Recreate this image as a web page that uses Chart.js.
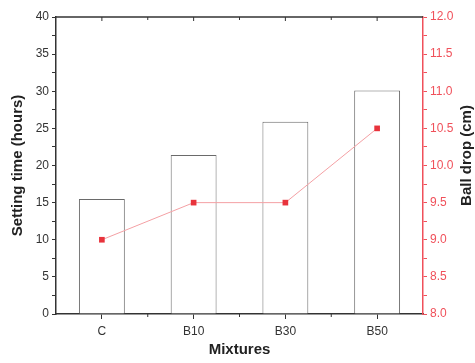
<!DOCTYPE html>
<html>
<head>
<meta charset="utf-8">
<script src="https://cdn.jsdelivr.net/npm/chart.js@4"></script>
<style>
  html, body { margin: 0; padding: 0; background: #fff; }
  #wrap { width: 475px; height: 363px; }
</style>
</head>
<body>
<div id="wrap"><canvas id="myChart" width="475" height="363"></canvas></div>
<script>
var mixtures = ['C', 'B10', 'B30', 'B50'];
var settingTime = [15.5, 21.4, 25.9, 30.1];
var ballDrop = [9.0, 9.5, 9.5, 10.5];

var font = 'Liberation Sans, Arial, sans-serif';
var red = '#f0505a';

// top frame line, small ticks between categories, right title reading upward
var framePlugin = {
  id: 'frame',
  afterDraw: function (chart) {
    var c = chart.ctx, a = chart.chartArea, x = chart.scales.x;
    c.save();
    c.strokeStyle = '#333';
    c.lineWidth = 1.5;
    c.beginPath();
    c.moveTo(a.left, a.top);
    c.lineTo(a.right, a.top);
    c.stroke();
    c.lineWidth = 1;
    for (var i = 0; i < mixtures.length; i++) {
      var px = x.getPixelForValue(i);
      c.beginPath();
      c.moveTo(px, a.top);
      c.lineTo(px, a.top + 4);
      c.stroke();
      if (i > 0) {
        var mx = (px + x.getPixelForValue(i - 1)) / 2;
        c.beginPath();
        c.moveTo(mx, a.bottom);
        c.lineTo(mx, a.bottom + 3);
        c.moveTo(mx, a.top);
        c.lineTo(mx, a.top + 3);
        c.stroke();
      }
    }
    c.translate(chart.width - 8, (a.top + a.bottom) / 2 - 10);
    c.rotate(-Math.PI / 2);
    c.fillStyle = '#222';
    c.font = 'bold 15px ' + font;
    c.textAlign = 'center';
    c.textBaseline = 'middle';
    c.fillText('Ball drop (cm)', 0, 0);
    c.restore();
  }
};

var ctx = document.getElementById('myChart').getContext('2d');

var myChart = new Chart(ctx, {
  data: {
    labels: mixtures,
    datasets: [
      {
        type: 'line',
        label: 'Ball drop',
        data: ballDrop,
        yAxisID: 'y2',
        borderColor: '#f4a0a4',
        borderWidth: 1,
        backgroundColor: '#e8333c',
        pointStyle: 'rect',
        pointRadius: 4,
        pointBorderWidth: 0,
        tension: 0,
      },
      {
        type: 'bar',
        label: 'Setting time',
        data: settingTime,
        yAxisID: 'y',
        backgroundColor: '#ffffff',
        borderColor: '#6a6a6a',
        borderWidth: 1,
        barPercentage: 0.5,
        categoryPercentage: 1,
      },
    ],
  },
  options: {
    responsive: false,
    animation: false,
    layout: { padding: { top: 17, right: 0, left: 0, bottom: 0 } },
    plugins: { legend: { display: false }, tooltip: { enabled: false } },
    scales: {
      x: {
        offset: true,
        grid: { drawOnChartArea: false, offset: false, tickLength: 5, color: '#333' },
        border: { color: '#333', width: 1.5 },
        ticks: { color: '#333', font: { family: font, size: 12 }, padding: 5 },
        title: { display: true, text: 'Mixtures', color: '#222', font: { family: font, size: 15, weight: 'bold' }, padding: { top: 6 } },
        afterFit: function (s) { s.height = 49; },
      },
      y: {
        position: 'left',
        min: 0,
        max: 40,
        ticks: {
          stepSize: 2.5,
          autoSkip: false,
          color: '#333',
          font: { family: font, size: 12 },
          padding: 3,
          callback: function (v) { return v % 5 === 0 ? v : ''; },
        },
        grid: { drawOnChartArea: false, tickLength: 4, color: '#333' },
        border: { color: '#333', width: 1.5 },
        title: { display: true, text: 'Setting time (hours)', color: '#222', font: { family: font, size: 15, weight: 'bold' }, padding: { top: 9, bottom: 0 } },
        afterFit: function (s) { s.width = 56; },
      },
      y2: {
        position: 'right',
        min: 8,
        max: 12,
        ticks: {
          stepSize: 0.25,
          autoSkip: false,
          color: red,
          font: { family: font, size: 12 },
          padding: 3,
          callback: function (v) { return Math.abs(v * 2 - Math.round(v * 2)) < 1e-6 ? v.toFixed(1) : ''; },
        },
        grid: { drawOnChartArea: false, tickLength: 4, color: red },
        border: { color: red, width: 1.5 },
        afterFit: function (s) { s.width = 52; },
      },
    },
  },
  plugins: [framePlugin],
});
</script>
</body>
</html>
